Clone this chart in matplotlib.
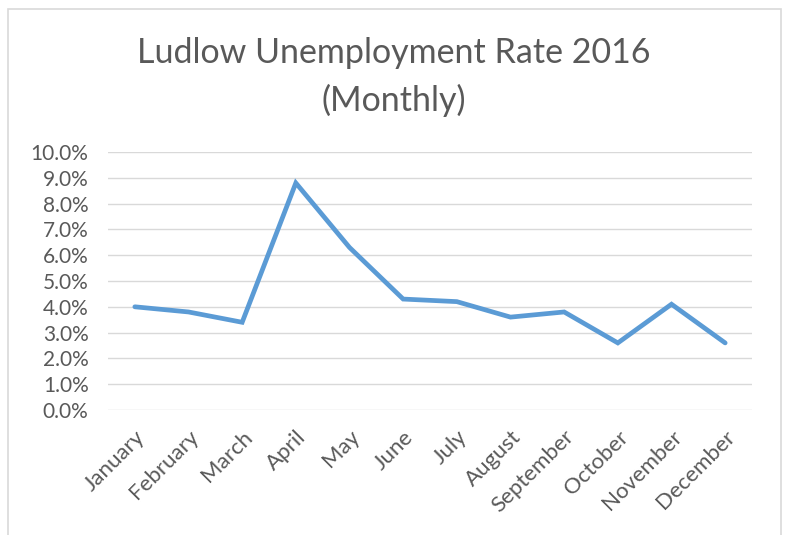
import matplotlib.pyplot as plt
from matplotlib.patches import Rectangle
from matplotlib.ticker import PercentFormatter

months = ['January', 'February', 'March', 'April', 'May', 'June', 'July',
          'August', 'September', 'October', 'November', 'December']
rate = [4.0, 3.8, 3.4, 8.8, 6.3, 4.3, 4.2, 3.6, 3.8, 2.6, 4.1, 2.6]
yticks = [0, 1, 2, 3, 4, 5, 6, 7, 8, 9, 10]

plt.rcParams['font.family'] = ['Lato', 'DejaVu Sans']
text_col = '#595959'

fig = plt.figure(figsize=(7.87, 5.35), dpi=100)
ax = fig.add_axes([108 / 787, 125 / 535, 644 / 787, 258 / 535])

ax.plot(range(len(months)), rate, color='#5B9BD5', lw=3.4, solid_joinstyle='miter',
        solid_capstyle='round', zorder=3)

ax.set_xlim(-0.5, len(months) - 0.5)
ax.set_ylim(0, 10)
ax.set_yticks(yticks)
ax.yaxis.set_major_formatter(PercentFormatter(decimals=1))
ax.grid(axis='y', color='#D9D9D9', lw=1)
ax.set_axisbelow(True)
for s in ax.spines.values():
    s.set_visible(False)
ax.tick_params(length=0, labelcolor=text_col)
ax.tick_params(axis='y', pad=14, labelsize=15)
ax.tick_params(axis='x', pad=12, labelsize=16)
ax.set_xticks(range(len(months)))
ax.set_xticklabels(months, rotation=45, ha='right', rotation_mode='anchor')

fig.text(0.5, 1 - 77 / 535, 'Ludlow Unemployment Rate 2016\n(Monthly)',
         ha='center', va='center', fontsize=24.5, color=text_col,
         linespacing=1.55)

fig.patches.append(Rectangle((8 / 787, -0.05), 773 / 787, 1.05 - 9 / 535,
                             transform=fig.transFigure, fill=False,
                             edgecolor='#D9D9D9', lw=1.2))

fig.savefig('out.png', dpi=100)
